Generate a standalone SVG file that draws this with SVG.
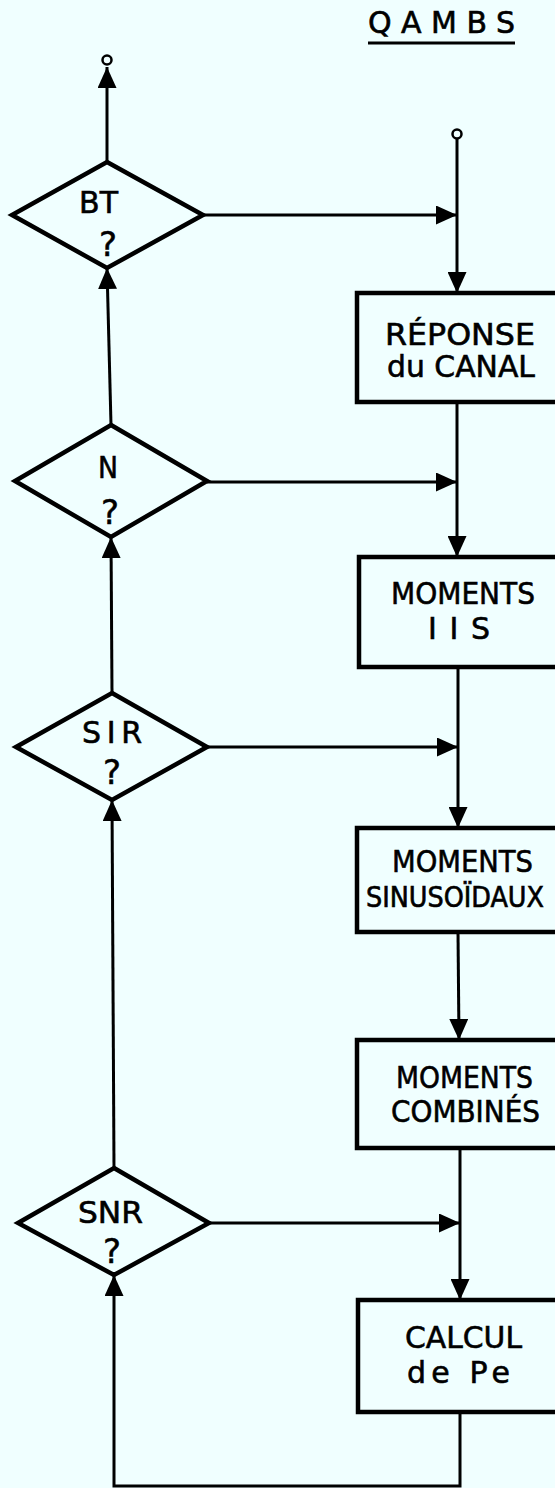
<svg xmlns="http://www.w3.org/2000/svg" width="555" height="1488" viewBox="0 0 555 1488">
  <style>
    .bg { fill: #f0ffff; }
    .shape { fill: none; stroke: #000; stroke-width: 4.5; stroke-linejoin: miter; }
    .wire { fill: none; stroke: #000; stroke-width: 3; }
    .term { fill: #f0ffff; stroke: #000; stroke-width: 2.5; }
    .lbl { font-family: "DejaVu Sans", "Liberation Sans", sans-serif; font-size: 30px; fill: #000; stroke: #000; stroke-width: 0.6; }
    .narrow { font-family: "DejaVu Sans Condensed", "DejaVu Sans", "Liberation Sans", sans-serif; font-size: 28px; }
    .q { font-family: "DejaVu Sans", "Liberation Sans", sans-serif; font-size: 34px; fill: #000; stroke: #000; stroke-width: 0.5; text-anchor: middle; }
  </style>
  <defs>
    <marker id="arrow" viewBox="0 0 21 19" refX="21" refY="9.5" markerWidth="21" markerHeight="19" markerUnits="userSpaceOnUse" orient="auto">
      <path d="M0,0 L21,9.5 L0,19 Z" fill="#000"/>
    </marker>
  </defs>

  <rect class="bg" x="0" y="0" width="555" height="1488"/>

  <!-- title -->
  <g id="title">
    <text class="lbl" x="368" y="33" textLength="147" lengthAdjust="spacing" font-size="32">QAMBS</text>
    <line x1="368" y1="43" x2="515" y2="43" stroke="#000" stroke-width="3"/>
  </g>

  <!-- connectors -->
  <g id="connectors">
    <!-- exit upwards from BT -->
    <line class="wire" x1="107" y1="162" x2="107" y2="67" marker-end="url(#arrow)"/>
    <!-- decision chain on the left -->
    <line class="wire" x1="111" y1="425" x2="107" y2="268" marker-end="url(#arrow)"/>
    <line class="wire" x1="112" y1="693" x2="111" y2="537" marker-end="url(#arrow)"/>
    <line class="wire" x1="114" y1="1168" x2="112" y2="800" marker-end="url(#arrow)"/>
    <!-- loop back from CALCUL de Pe to SNR -->
    <polyline class="wire" points="460,1412 460,1486 114,1486 114,1275" marker-end="url(#arrow)"/>
    <!-- main processing line on the right -->
    <line class="wire" x1="457" y1="139" x2="457" y2="293" marker-end="url(#arrow)"/>
    <line class="wire" x1="457" y1="402" x2="457" y2="557" marker-end="url(#arrow)"/>
    <line class="wire" x1="458" y1="667" x2="458" y2="828" marker-end="url(#arrow)"/>
    <line class="wire" x1="458" y1="932" x2="459" y2="1040" marker-end="url(#arrow)"/>
    <line class="wire" x1="460" y1="1148" x2="460" y2="1300" marker-end="url(#arrow)"/>
    <!-- decision outputs joining the main line -->
    <line class="wire" x1="203" y1="215" x2="457" y2="215" marker-end="url(#arrow)"/>
    <line class="wire" x1="207" y1="482" x2="457" y2="482" marker-end="url(#arrow)"/>
    <line class="wire" x1="207" y1="747" x2="458" y2="747" marker-end="url(#arrow)"/>
    <line class="wire" x1="209" y1="1223" x2="460" y2="1223" marker-end="url(#arrow)"/>
    <!-- terminals -->
    <circle class="term" cx="107" cy="60" r="4.5"/>
    <circle class="term" cx="457" cy="134" r="4.5"/>
  </g>

  <!-- decisions -->
  <g id="dec-bt">
    <polygon class="shape" points="107,162 203,215 107,268 12,215"/>
    <text class="lbl" x="79" y="213" textLength="39" lengthAdjust="spacingAndGlyphs">BT</text>
    <text class="q" x="108" y="256">?</text>
  </g>
  <g id="dec-n">
    <polygon class="shape" points="111,425 207,481 111,537 15,481"/>
    <text class="lbl" x="98" y="478" textLength="20" lengthAdjust="spacingAndGlyphs">N</text>
    <text class="q" x="110" y="524">?</text>
  </g>
  <g id="dec-sir">
    <polygon class="shape" points="112,693 207,747 112,800 16,747"/>
    <text class="lbl" x="82" y="743" textLength="60" lengthAdjust="spacing">SIR</text>
    <text class="q" x="112" y="784">?</text>
  </g>
  <g id="dec-snr">
    <polygon class="shape" points="114,1168 209,1223 114,1275 18,1223"/>
    <text class="lbl" x="78" y="1223" textLength="65" lengthAdjust="spacingAndGlyphs">SNR</text>
    <text class="q" x="112" y="1263">?</text>
  </g>

  <!-- processing boxes -->
  <g id="box-reponse">
    <rect class="shape" x="357" y="293" width="210" height="109"/>
    <text class="lbl" x="385" y="345" textLength="150" lengthAdjust="spacingAndGlyphs">RÉPONSE</text>
    <text class="lbl" x="387" y="377" textLength="148" lengthAdjust="spacingAndGlyphs">du CANAL</text>
  </g>
  <g id="box-iis">
    <rect class="shape" x="359" y="557" width="210" height="110"/>
    <text class="lbl" x="391" y="604" textLength="144" lengthAdjust="spacingAndGlyphs">MOMENTS</text>
    <text class="lbl" x="428" y="639" textLength="62" lengthAdjust="spacing">IIS</text>
  </g>
  <g id="box-sinus">
    <rect class="shape" x="357" y="828" width="210" height="104"/>
    <text class="lbl" x="392" y="872" textLength="141" lengthAdjust="spacingAndGlyphs">MOMENTS</text>
    <text class="lbl narrow" x="366" y="907" textLength="178" lengthAdjust="spacingAndGlyphs">SINUSOÏDAUX</text>
  </g>
  <g id="box-combines">
    <rect class="shape" x="357" y="1040" width="210" height="108"/>
    <text class="lbl" x="396" y="1088" textLength="137" lengthAdjust="spacingAndGlyphs">MOMENTS</text>
    <text class="lbl" x="391" y="1122" textLength="149" lengthAdjust="spacingAndGlyphs">COMBINÉS</text>
  </g>
  <g id="box-calcul">
    <rect class="shape" x="358" y="1300" width="210" height="112"/>
    <text class="lbl" x="405" y="1348" textLength="117" lengthAdjust="spacingAndGlyphs">CALCUL</text>
    <text class="lbl" x="407" y="1383" textLength="103" lengthAdjust="spacing">de Pe</text>
  </g>
</svg>
